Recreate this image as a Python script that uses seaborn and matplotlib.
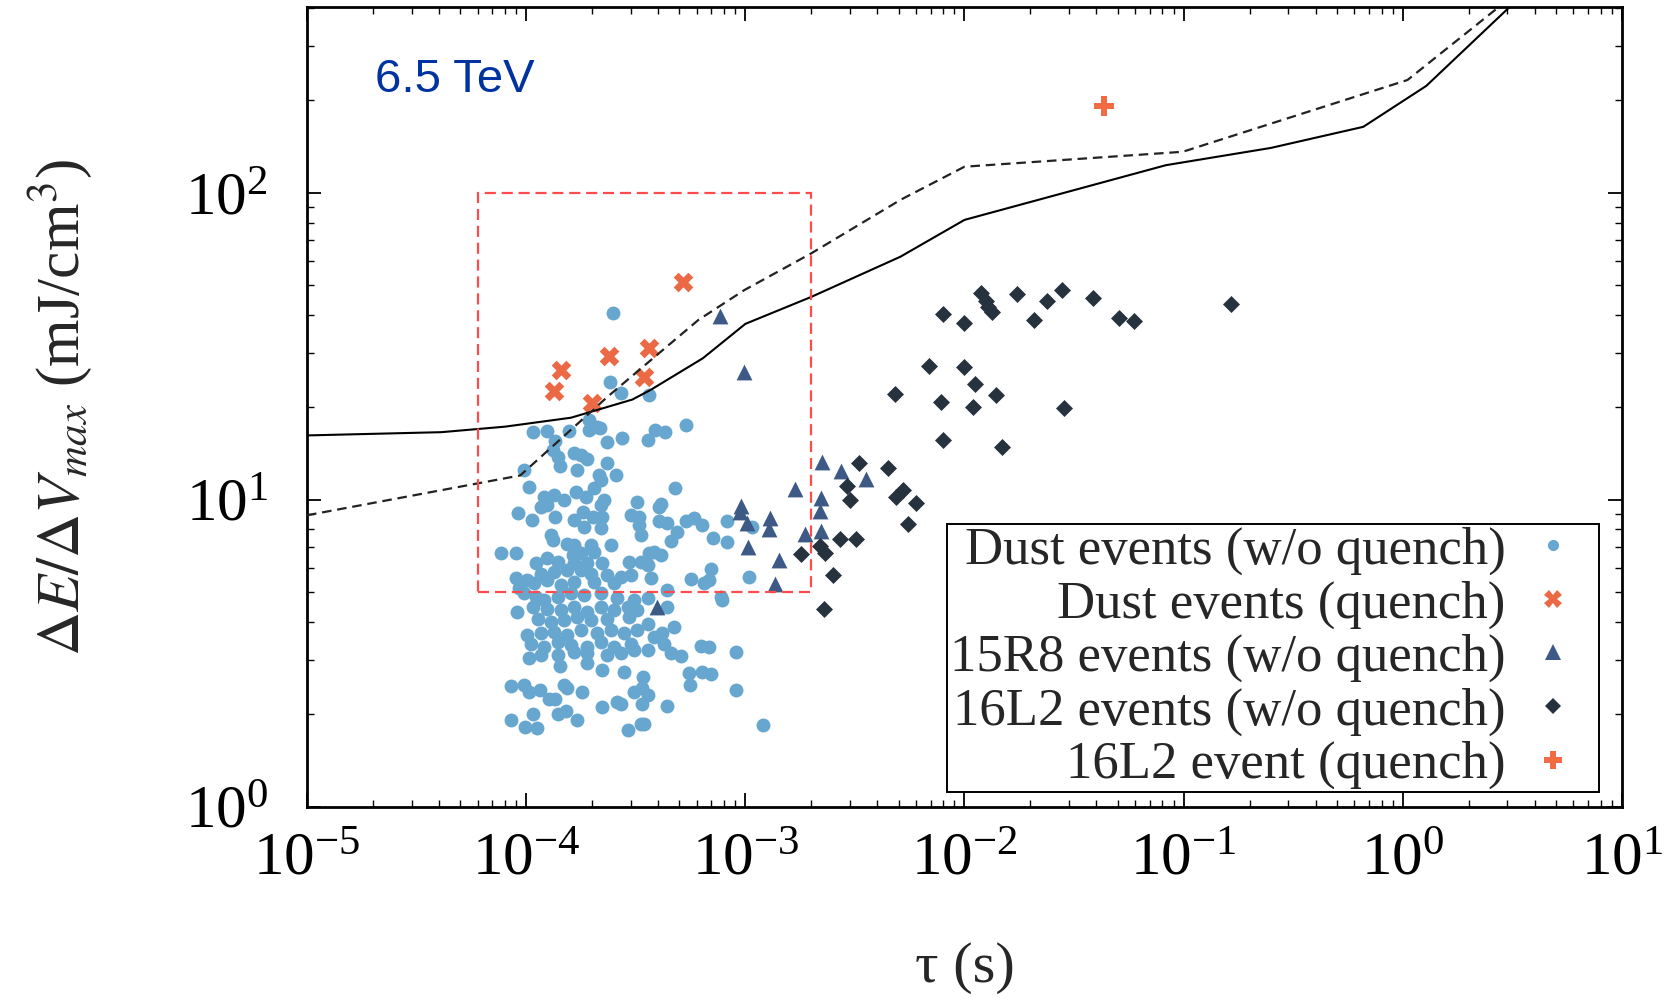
import numpy as np
import matplotlib
matplotlib.use("Agg")
import matplotlib.pyplot as plt
import seaborn as sns
from matplotlib.patches import Rectangle
from matplotlib.lines import Line2D
from matplotlib.ticker import LogLocator, NullFormatter

# ---------------- data ----------------
# Dust events without quench: tau in ms, energy density in mJ/cm^3
dust_tau_ms = [
    0.241, 0.270, 0.364, 0.194, 0.211, 0.218, 0.107, 0.125, 0.157, 0.194,
    0.386, 0.430, 0.537, 0.136, 0.235, 0.273, 0.361, 0.132, 0.139, 0.166,
    0.178, 0.190, 0.235, 0.143, 0.098, 0.171, 0.215, 0.256, 0.219, 0.103,
    0.203, 0.168, 0.478, 0.121, 0.134, 0.149, 0.187, 0.227, 0.219, 0.117,
    0.125, 0.320, 0.411, 0.405, 0.092, 0.106, 0.136, 0.166, 0.182, 0.202,
    0.223, 0.300, 0.328, 0.184, 0.219, 0.328, 0.405, 0.441, 0.535, 0.584,
    0.635, 0.490, 0.822, 1.076, 0.130, 0.132, 0.333, 0.710, 0.828, 0.457,
    0.154, 0.166, 0.197, 0.243, 0.077, 0.090, 0.163, 0.178, 0.204, 0.364,
    0.383, 0.411, 0.125, 0.111, 0.139, 0.166, 0.190, 0.223, 0.295, 0.333,
    0.358, 0.090, 0.101, 0.117, 0.134, 0.154, 0.178, 0.197, 0.235, 0.270,
    0.300, 0.371, 0.567, 0.695, 1.040, 0.647, 0.680, 0.093, 0.109, 0.125,
    0.144, 0.166, 0.204, 0.252, 0.441, 0.098, 0.111, 0.121, 0.139, 0.160,
    0.184, 0.219, 0.261, 0.311, 0.358, 0.772, 0.780, 0.091, 0.107, 0.125,
    0.144, 0.166, 0.190, 0.219, 0.252, 0.290, 0.322, 0.441, 0.113, 0.130,
    0.149, 0.171, 0.197, 0.235, 0.295, 0.358, 0.101, 0.117, 0.134, 0.154,
    0.178, 0.211, 0.243, 0.280, 0.322, 0.383, 0.418, 0.473, 0.105, 0.121,
    0.139, 0.160, 0.190, 0.219, 0.252, 0.300, 0.358, 0.425, 0.626, 0.683,
    0.904, 0.103, 0.117, 0.139, 0.166, 0.190, 0.235, 0.270, 0.311, 0.457,
    0.507, 0.143, 0.190, 0.222, 0.280, 0.343, 0.553, 0.635, 0.695, 0.085,
    0.098, 0.103, 0.116, 0.127, 0.136, 0.149, 0.154, 0.179, 0.311, 0.339,
    0.358, 0.560, 0.904, 0.223, 0.259, 0.270, 0.339, 0.437, 0.085, 0.099,
    0.107, 0.112, 0.140, 0.152, 0.170, 0.290, 0.335, 0.345, 1.204, 0.250,
]
dust_energy = [
    24.2, 22.2, 21.9, 18.2, 17.3, 17.1, 16.6, 16.7, 16.7, 16.9,
    16.9, 16.6, 17.5, 15.5, 15.4, 15.9, 15.6, 14.5, 13.8, 14.2,
    14.0, 13.6, 13.2, 12.9, 12.5, 12.5, 12.0, 12.0, 11.6, 11.0,
    10.9, 10.6, 10.9, 10.2, 10.4, 9.98, 10.2, 9.98, 9.6, 9.48,
    9.6, 9.8, 9.7, 9.48, 9.03, 8.59, 8.8, 8.6, 9.1, 8.8,
    8.8, 8.9, 8.8, 8.17, 8.07, 8.27, 8.5, 8.4, 8.55, 8.7,
    8.27, 7.87, 8.5, 8.17, 7.67, 7.39, 7.67, 7.5, 7.27, 7.33,
    7.2, 7.1, 7.1, 7.1, 6.69, 6.69, 6.6, 6.69, 6.77, 6.69,
    6.77, 6.6, 6.44, 6.23, 6.28, 6.23, 6.2, 6.23, 6.28, 6.28,
    6.12, 5.54, 5.47, 5.75, 5.83, 5.9, 5.9, 5.75, 5.68, 5.6,
    5.68, 5.54, 5.5, 5.97, 5.6, 5.34, 5.47, 5.14, 5.34, 5.47,
    5.27, 5.41, 5.41, 5.34, 5.1, 4.95, 4.83, 4.71, 4.83, 4.95,
    4.89, 4.95, 4.77, 4.71, 4.77, 4.83, 4.71, 4.31, 4.48, 4.42,
    4.37, 4.48, 4.31, 4.48, 4.37, 4.48, 4.37, 4.46, 4.1, 4.0,
    4.05, 4.15, 4.05, 4.1, 4.15, 3.95, 3.63, 3.67, 3.72, 3.63,
    3.77, 3.67, 3.77, 3.67, 3.77, 3.58, 3.67, 3.84, 3.4, 3.32,
    3.45, 3.36, 3.32, 3.45, 3.32, 3.4, 3.25, 3.4, 3.33, 3.32,
    3.18, 3.04, 3.12, 3.12, 3.2, 3.16, 3.12, 3.16, 3.24, 3.16,
    3.1, 2.87, 2.93, 2.79, 2.75, 2.65, 2.72, 2.75, 2.71, 2.47,
    2.5, 2.37, 2.4, 2.25, 2.24, 2.5, 2.43, 2.37, 2.37, 2.43,
    2.31, 2.5, 2.4, 2.12, 2.2, 2.16, 2.16, 2.13, 1.91, 1.82,
    2.0, 1.8, 2.0, 2.05, 1.92, 1.78, 1.86, 1.86, 1.85, 40.7,
]

# Dust events with quench
quench_tau = [1.34e-4, 1.44e-4, 2.0e-4, 2.39e-4, 3.45e-4, 3.63e-4, 5.21e-4]
quench_energy = [22.6, 26.5, 20.7, 29.4, 25.2, 31.1, 51.3]

# 15R8 events (w/o quench)
r8_tau = [7.67e-4, 9.84e-4, 2.24e-3, 2.74e-3, 3.55e-3, 1.68e-3, 9.6e-4,
          9.42e-4, 1.29e-3, 1.28e-3, 1.02e-3, 2.22e-3, 2.19e-3, 1.87e-3,
          2.21e-3, 1.03e-3, 1.43e-3, 1.36e-3, 3.97e-4]
r8_energy = [39.8, 26.1, 13.3, 12.4, 11.65, 10.8, 9.54, 9.12, 8.70, 8.03,
             8.40, 10.1, 9.22, 7.75, 7.92, 7.03, 6.36, 5.31, 4.46]

# 16L2 events (w/o quench)
l2_tau = [1.19e-2, 1.25e-2, 1.285e-2, 1.33e-2, 1.74e-2, 2.37e-2, 2.79e-2,
          3.85e-2, 5.06e-2, 5.93e-2, 0.165, 7.96e-3, 1.0e-2, 2.08e-2,
          6.92e-3, 1.0e-2, 1.12e-2, 1.39e-2, 4.82e-3, 7.80e-3, 1.09e-2,
          2.83e-2, 7.98e-3, 1.49e-2, 3.31e-3, 4.48e-3, 2.90e-3, 3.0e-3,
          5.22e-3, 4.85e-3, 6.01e-3, 5.52e-3, 2.71e-3, 3.21e-3, 2.20e-3,
          2.31e-3, 1.80e-3, 2.50e-3, 2.29e-3]
l2_energy = [47.0, 44.5, 42.5, 41.0, 46.7, 44.5, 48.2, 45.3, 39.2, 38.2,
             43.3, 40.3, 37.7, 38.5, 27.3, 27.1, 23.8, 21.9, 22.1, 20.8,
             20.1, 19.9, 15.6, 14.9, 13.2, 12.7, 11.1, 10.0, 10.75, 10.2,
             9.78, 8.33, 7.43, 7.43, 7.07, 6.72, 6.64, 5.68, 4.40]

# 16L2 event (quench)
l2q_tau = [4.35e-2]
l2q_energy = [192.0]

# Threshold curves
solid_tau = [1e-5, 4.1e-5, 8e-5, 1.6e-4, 3.05e-4, 3.7e-4, 6.4e-4, 1e-3, 2e-3,
             5.1e-3, 1e-2, 8.3e-2, 0.25, 0.66, 1.28, 3.06]
solid_energy = [16.2, 16.6, 17.3, 18.5, 21.2, 22.8, 28.9, 37.4, 45.8,
                61.9, 81.6, 123, 140, 164, 223, 402]
dashed_tau = [1e-5, 9.4e-5, 2.36e-4, 6.1e-4, 9.9e-4, 2e-3, 5.1e-3, 1e-2,
              9.9e-2, 1.05, 2.73]
dashed_energy = [8.9, 12.0, 21.7, 38.5, 48.2, 63.5, 94.8, 121.6, 136, 233, 402]

# Highlight box
box_tau = [6e-5, 2e-3]
box_energy = [5.0, 100.0]

labels = ["Dust events (w/o quench)", "Dust events (quench)",
          "15R8 events (w/o quench)", "16L2 events (w/o quench)",
          "16L2 event (quench)"]

# ---------------- style ----------------
sns.set_style("ticks")
plt.rcParams["font.family"] = ["Liberation Serif", "DejaVu Serif"]
plt.rcParams["mathtext.fontset"] = "stix"

c_dust = "#67A6CE"
c_q = "#EB6A45"
c_r8 = "#3D5A86"
c_l2 = "#27323F"
c_l2q = "#F26B43"

fig = plt.figure(figsize=(16.65, 9.98), dpi=100)
ax = fig.add_axes([0.18438, 0.19168, 0.78979, 0.801])
ax.set_xscale("log")
ax.set_yscale("log")

dust_tau = np.array(dust_tau_ms) / 1000.0

sns.scatterplot(x=dust_tau, y=dust_energy, ax=ax, marker="o", s=100,
                color=c_dust, linewidth=0, zorder=2, legend=False)
sns.scatterplot(x=quench_tau, y=quench_energy, ax=ax, marker="X", s=200,
                color=c_q, linewidth=0, zorder=2, legend=False)
sns.scatterplot(x=r8_tau, y=r8_energy, ax=ax, marker="^", s=130,
                color=c_r8, linewidth=0, zorder=2, legend=False)
sns.scatterplot(x=l2_tau, y=l2_energy, ax=ax, marker="D", s=75,
                color=c_l2, linewidth=0, zorder=2, legend=False)
sns.scatterplot(x=l2q_tau, y=l2q_energy, ax=ax, marker="P", s=190,
                color=c_l2q, linewidth=0, zorder=2, legend=False)

sns.lineplot(x=solid_tau, y=solid_energy, ax=ax, color="black", lw=1.5,
             sort=False, estimator=None, zorder=3, legend=False)
sns.lineplot(x=dashed_tau, y=dashed_energy, ax=ax, color="#222222", lw=1.6,
             sort=False, estimator=None, zorder=3, legend=False)
ax.lines[-1].set_dashes((4.3, 2.6))

ax.add_patch(Rectangle((box_tau[0], box_energy[0]),
                       box_tau[1] - box_tau[0], box_energy[1] - box_energy[0],
                       fill=False, edgecolor="#FF4B4B", lw=1.6,
                       linestyle=(0, (5.0, 2.6)), zorder=4))

ax.set_xlim(1e-5, 10)
ax.set_ylim(1, 402)

ax.xaxis.set_major_locator(LogLocator(base=10, numticks=20))
ax.xaxis.set_minor_locator(LogLocator(base=10, subs=np.arange(2, 10), numticks=100))
ax.yaxis.set_minor_locator(LogLocator(base=10, subs=np.arange(2, 10), numticks=100))
ax.xaxis.set_minor_formatter(NullFormatter())
ax.yaxis.set_minor_formatter(NullFormatter())

ax.tick_params(which="both", direction="in", top=True, right=True,
               colors="black")
ax.tick_params(which="major", length=10, width=1.3, labelsize=44)
ax.tick_params(which="minor", length=5, width=1.0)
ax.tick_params(axis="x", which="major", pad=18)
ax.tick_params(axis="y", which="major", pad=28)

for sp in ax.spines.values():
    sp.set_visible(True)
    sp.set_color("black")
    sp.set_linewidth(2.0)

ax.set_xlabel("τ (s)", fontsize=42)
ax.xaxis.label.set_verticalalignment("baseline")
ax.xaxis.set_label_coords(0.5, -0.219)
ax.set_ylabel(r"$\Delta E/\Delta V_{max}$ (mJ/cm$^3$)", fontsize=44)
ax.yaxis.set_label_coords(-0.162, 0.5)

ax.text(0.0514, 0.8944, "6.5 TeV", transform=ax.transAxes, fontsize=34,
        color="#0033A0", family=["Liberation Sans", "DejaVu Sans"],
        ha="left", va="baseline")

handles = [
    Line2D([], [], ls="none", marker="o", ms=8, color=c_dust, mew=0),
    Line2D([], [], ls="none", marker="X", ms=12.5, color=c_q, mew=0),
    Line2D([], [], ls="none", marker="^", ms=11.5, color=c_r8, mew=0),
    Line2D([], [], ls="none", marker="D", ms=8, color=c_l2, mew=0),
    Line2D([], [], ls="none", marker="P", ms=13.5, color=c_l2q, mew=0),
]
leg = ax.legend(handles, labels, loc="lower right",
                bbox_to_anchor=(0.9825, 0.0184), borderaxespad=0,
                markerfirst=False, fontsize=38, frameon=True, fancybox=False,
                edgecolor="black", framealpha=1, handlelength=1.63,
                handletextpad=0.09, borderpad=0.05, labelspacing=0.1)
leg.get_frame().set_linewidth(1.4)
leg.set_zorder(5)

fig.savefig("out.png", dpi=100)
